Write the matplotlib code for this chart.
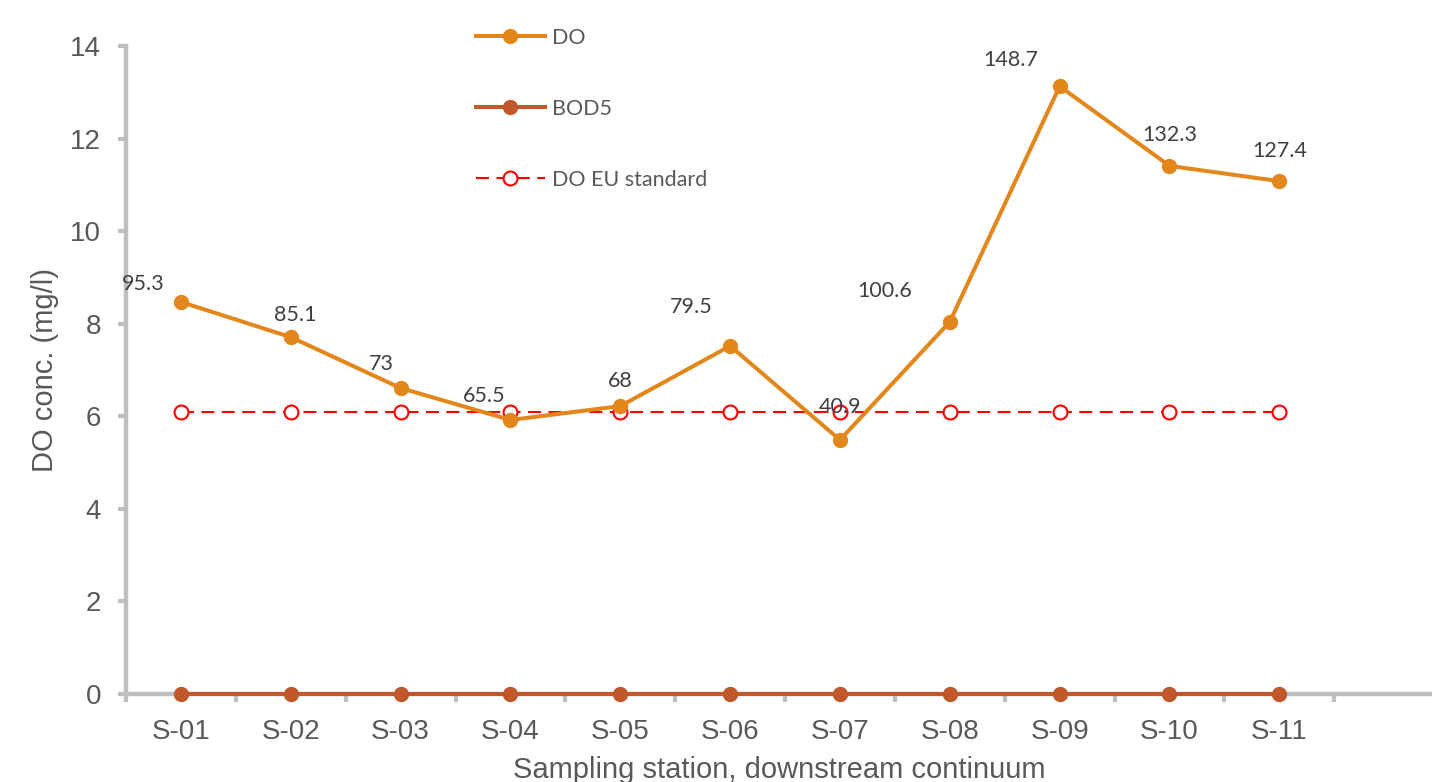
import matplotlib
matplotlib.use("Agg")
import matplotlib.pyplot as plt
from matplotlib.ticker import FixedLocator, NullFormatter

estacoes = ["S-01", "S-02", "S-03", "S-04", "S-05", "S-06",
            "S-07", "S-08", "S-09", "S-10", "S-11"]
od = [8.47, 7.71, 6.61, 5.92, 6.22, 7.52, 5.49, 8.04, 13.13, 11.41, 11.08]
dbo5 = [0, 0, 0, 0, 0, 0, 0, 0, 0, 0, 0]
od_padrao_ue = [6.1] * 11
# saturacao de OD (%) escrita sobre cada ponto
saturacao = ["95.3", "85.1", "73", "65.5", "68", "79.5",
             "40.9", "100.6", "148.7", "132.3", "127.4"]
# deslocamento dos rotulos (pontos tipograficos)
desloc = [(-27, 13), (3, 16), (-14, 17), (-19, 17), (0, 18), (-28, 28),
          (0, 24), (-47, 22), (-35, 19), (0, 22), (0, 22)]

cinza = "#595959"
eixo = "#BFBFBF"

fig = plt.figure(figsize=(14.32, 7.82), dpi=100)
ax = fig.add_axes([126 / 1432, 88 / 782, 1306 / 1432, 648 / 782])

x = list(range(len(estacoes)))
ax.plot(x, od, color="#E3861B", lw=2.9, marker="o", ms=10,
        label="DO", zorder=4, clip_on=False)
ax.plot(x, dbo5, color="#C0582B", lw=2.9, marker="o", ms=10,
        label="BOD5", zorder=5, clip_on=False)
ax.plot(x, od_padrao_ue, color="#FF0000", lw=1.5, dashes=(6.2, 3.6),
        marker="o", ms=10, mfc="white", mec="#FF0000", mew=1.5,
        label="DO EU standard", zorder=3)

for i, (txt, (dx, dy)) in enumerate(zip(saturacao, desloc)):
    ax.annotate(txt, (x[i], od[i]), xytext=(dx, dy), textcoords="offset points",
                ha="center", va="center", fontsize=15.5, family="Lato",
                color="#404040", zorder=6)

ax.set_xlim(-0.5, 11.39)
ax.set_ylim(0, 14)

for lado in ["top", "right"]:
    ax.spines[lado].set_visible(False)
for lado in ["left", "bottom"]:
    ax.spines[lado].set_color(eixo)
    ax.spines[lado].set_linewidth(3.2)
ax.spines["bottom"].set_zorder(2)

ax.set_yticks(range(0, 15, 2))
ax.tick_params(axis="y", length=6, width=3, color=eixo, pad=12,
               labelsize=20, labelcolor=cinza)
ax.xaxis.set_major_locator(FixedLocator([i - 0.5 for i in range(13)]))
ax.xaxis.set_major_formatter(NullFormatter())
ax.xaxis.set_minor_locator(FixedLocator(x))
ax.set_xticklabels(estacoes, minor=True)
ax.tick_params(axis="x", which="major", length=6, width=3, color=eixo)
ax.tick_params(axis="x", which="minor", length=0, pad=18,
               labelsize=20, labelcolor=cinza)
for t in ax.get_xticklabels(minor=True) + ax.get_yticklabels():
    t.set_family("Liberation Sans")

ax.set_ylabel("DO conc. (mg/l)", fontsize=21, color=cinza,
              family="Liberation Sans", va="center")
ax.yaxis.set_label_coords(-0.062, 0.5)
ax.set_xlabel("Sampling station, downstream continuum", fontsize=21,
              color=cinza, family="Liberation Sans", va="baseline")
ax.xaxis.set_label_coords(0.5, -0.1296)

leg = ax.legend(loc="upper left", bbox_to_anchor=(476 / 1432, 1 - 28 / 782),
                bbox_transform=fig.transFigure, frameon=False, borderpad=0,
                borderaxespad=0, handlelength=3.2, handletextpad=0.33,
                labelspacing=2.36, prop={"family": "Lato", "size": 15.5})
for t in leg.get_texts():
    t.set_color(cinza)

fig.savefig("out.png", dpi=100)
